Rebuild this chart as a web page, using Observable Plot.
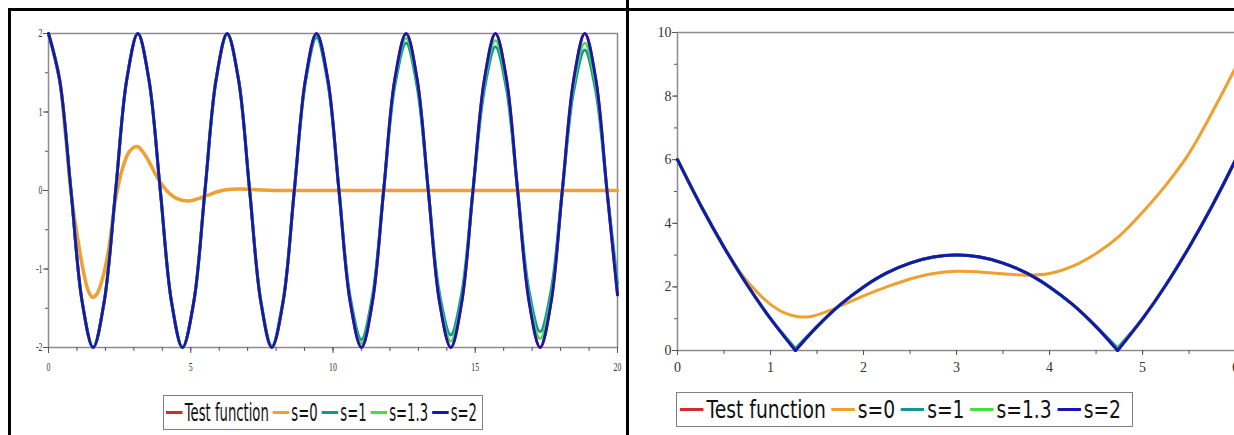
<!DOCTYPE html>
<html><head><meta charset="utf-8">
<script src="https://cdn.jsdelivr.net/npm/d3@7"></script>
<script src="https://cdn.jsdelivr.net/npm/@observablehq/plot@0.6"></script>
<style>
html,body{margin:0;padding:0;background:#fff;overflow:hidden;}
#wrap{position:relative;width:1234px;height:435px;overflow:hidden;background:#fff;}
.rule{position:absolute;background:#000;}
.panel{position:absolute;top:0;}
.panel svg{max-width:none !important;}
.legend{position:absolute;border:1.5px solid #808080;box-sizing:border-box;background:#fff;overflow:hidden;}
.legend .row{position:absolute;top:50%;display:flex;align-items:center;white-space:nowrap;font-family:"DejaVu Sans";font-size:24px;color:#111;transform-origin:0 50%;}
.sw{display:inline-block;width:30px;height:3px;margin-right:4px;}
.lab{margin-right:7px;}
</style>
</head><body>
<div id="wrap">
  <div class="panel" id="left" style="left:0px;width:627px;"></div>
  <div class="panel" id="right" style="left:627px;width:636px;"></div>
  <div class="legend" id="legL" style="left:163px;top:395px;width:320px;height:35px;"></div>
  <div class="legend" id="legR" style="left:676px;top:392px;width:457px;height:35px;"></div>
  <div class="rule" style="left:8px;top:8px;width:1226px;height:3px;"></div>
  <div class="rule" style="left:8px;top:8px;width:3px;height:427px;"></div>
  <div class="rule" style="left:626px;top:0px;width:3px;height:435px;"></div>
</div>
<script>
// ---------- legend ----------
const seriesNames = ["Test function", "s=0", "s=1", "s=1.3", "s=2"];
const seriesColors = ["#d42a2a", "#efa030", "#179595", "#40e040", "#1616b0"];

// ---------- left panel (x 0..20, y -2..2) ----------
const leftXTicks = [0, 5, 10, 15, 20];
const leftYTicks = [-2, -1, 0, 1, 2];
const leftX = [0,0.39,0.79,1.18,1.57,1.96,2.36,2.75,3.14,3.53,3.93,4.32,4.71,5.11,5.50,5.89,
  6.28,6.68,7.07,7.46,7.85,8.25,8.64,9.03,9.42,9.82,10.21,10.60,11.00,11.39,11.78,12.17,
  12.57,12.96,13.35,13.74,14.14,14.53,14.92,15.32,15.71,16.10,16.49,16.89,17.28,17.67,18.06,18.46,
  18.85,19.24,19.63,20.00];
const leftTest = [2,1.41,0,-1.41,-2,-1.41,0,1.41, 2,1.41,0,-1.41,-2,-1.41,0,1.41,
  2,1.41,0,-1.41,-2,-1.41,0,1.41, 2,1.41,0,-1.41,-2,-1.41,0,1.41,
  2,1.41,0,-1.41,-2,-1.41,0,1.41, 2,1.41,0,-1.41,-2,-1.41,0,1.41, 2,1.41,0,-1.33];
const leftS1 = [2,1.41,0,-1.41,-2,-1.41,0,1.41, 2,1.41,0,-1.41,-2,-1.41,0,1.41,
  1.99,1.41,0,-1.40,-1.98,-1.39,0,1.38, 1.95,1.37,0,-1.35,-1.90,-1.34,0,1.33,
  1.88,1.32,0,-1.31,-1.84,-1.30,0,1.29, 1.83,1.29,0,-1.28,-1.80,-1.27,0,1.27, 1.79,1.26,0,-1.19];
const leftS13 = [2,1.41,0,-1.41,-2,-1.41,0,1.41, 2,1.41,0,-1.41,-2,-1.41,0,1.41,
  2,1.41,0,-1.41,-1.99,-1.41,0,1.40, 1.98,1.40,0,-1.39,-1.95,-1.38,0,1.37,
  1.94,1.37,0,-1.36,-1.92,-1.36,0,1.35, 1.91,1.35,0,-1.34,-1.89,-1.34,0,1.33, 1.88,1.33,0,-1.25];
const leftS2 = [2,1.41,0,-1.41,-2,-1.41,0,1.41, 2,1.41,0,-1.41,-2,-1.41,0,1.41,
  2,1.41,0,-1.41,-2,-1.41,0,1.41, 2,1.41,0,-1.41,-2,-1.41,0,1.41,
  2,1.41,0,-1.41,-2,-1.41,0,1.41, 2,1.41,0,-1.41,-2,-1.41,0,1.41, 2,1.41,0,-1.33];
const leftS0X = [0,0.39,0.6,0.8,1.0,1.2,1.4,1.55,1.7,1.9,2.1,2.35,2.6,2.85,3.12,3.4,3.6,3.82,4.15,4.5,
  4.93,5.3,5.6,6.0,6.4,6.75,7.3,8,10,12,14,16,18,20];
const leftS0 = [2,1.41,0.7,-0.05,-0.55,-0.98,-1.28,-1.36,-1.32,-1.12,-0.78,-0.13,0.28,0.5,0.56,0.45,0.32,0.17,0.0,-0.1,
  -0.135,-0.1,-0.06,-0.01,0.015,0.02,0.01,0,0,0,0,0,0,0];

// ---------- right panel (x 0..6.3, y 0..10) ----------
const rightXTicks = [0, 1, 2, 3, 4, 5, 6];
const rightYTicks = [0, 2, 4, 6, 8, 10];
const rightKinks = [1.268, 4.732];
const rightX = [0,0.25,0.5,0.75,1.0,1.268,1.5,1.75,2.0,2.25,2.5,2.75,3.0,3.25,3.5,3.75,4.0,4.25,4.5,4.732,5.0,5.25,5.5,5.75,6.0,6.3];
const rightTest = [6,4.56,3.25,2.06,1.0,0,0.75,1.44,2.0,2.44,2.75,2.94,3.0,2.94,2.75,2.44,2.0,1.44,0.75,0,1.0,2.06,3.25,4.56,6.0,7.89];
const rightS1 = [6,4.56,3.25,2.06,1.0,0.06,0.75,1.44,2.0,2.44,2.75,2.94,3.0,2.94,2.75,2.44,2.0,1.44,0.75,0.08,1.0,2.06,3.25,4.56,6.0,7.89];
const rightS13 = [6,4.56,3.25,2.06,1.0,0.03,0.75,1.44,2.0,2.44,2.75,2.94,3.0,2.94,2.75,2.44,2.0,1.44,0.75,0.04,1.0,2.06,3.25,4.56,6.0,7.89];
const rightS2 = [6,4.56,3.25,2.06,1.0,0,0.75,1.44,2.0,2.44,2.75,2.94,3.0,2.94,2.75,2.44,2.0,1.44,0.75,0,1.0,2.06,3.25,4.56,6.0,7.89];
const rightS0X = [0,0.25,0.5,0.7,0.85,1.0,1.15,1.3,1.45,1.6,1.75,2.0,2.25,2.5,2.75,3.0,3.25,3.5,3.75,4.0,4.25,4.5,4.75,5.0,5.25,5.5,5.75,6.0,6.3];
const rightS0 = [6,4.56,3.25,2.35,1.85,1.45,1.18,1.06,1.08,1.22,1.4,1.72,2.0,2.25,2.42,2.49,2.47,2.41,2.37,2.42,2.65,3.05,3.6,4.35,5.2,6.2,7.5,8.9,10.7];

// ---------- helpers ----------
const rows = (xs, ys) => xs.map((x, i) => ({x, y: ys[i]}));
function segRows(xs, ys, kinks) {
  const out = [];
  xs.forEach((x, i) => {
    const seg = kinks.filter(k => x > k).length;
    out.push({x, y: ys[i], seg});
    if (kinks.includes(x)) out.push({x, y: ys[i], seg: seg + 1});
  });
  return out;
}
const fmt = d => String(d);
const tickCol = "#555";
const serif = "Liberation Serif";

// ---------- left plot ----------
const leftMarks = [
  Plot.frame({stroke: "#8c8c8c", strokeWidth: 1.5}),
  Plot.axisX({ticks: d3.range(0, 21, 1), tickSize: 4, tickFormat: () => "", stroke: tickCol, label: null}),
  Plot.axisX({ticks: leftXTicks, tickSize: 6, tickPadding: 9, tickFormat: fmt, stroke: tickCol, label: null, fontFamily: serif, fontSize: 12, fill: "#333"}),
  Plot.axisY({ticks: d3.range(-2, 2.01, 0.5), tickSize: 3, tickFormat: () => "", stroke: tickCol, label: null}),
  Plot.axisY({ticks: leftYTicks, tickSize: 5, tickPadding: 1, tickFormat: fmt, stroke: tickCol, label: null, fontFamily: serif, fontSize: 12, fill: "#333"}),
  Plot.line(rows(leftX, leftTest), {x: "x", y: "y", stroke: seriesColors[0], strokeWidth: 3, curve: "catmull-rom"}),
  Plot.line(rows(leftS0X, leftS0), {x: "x", y: "y", stroke: seriesColors[1], strokeWidth: 3.5, curve: "catmull-rom"}),
  Plot.line(rows(leftX, leftS1), {x: "x", y: "y", stroke: seriesColors[2], strokeWidth: 3, curve: "catmull-rom"}),
  Plot.line(rows(leftX, leftS13), {x: "x", y: "y", stroke: seriesColors[3], strokeWidth: 2.5, curve: "catmull-rom"}),
  Plot.line(rows(leftX, leftS2), {x: "x", y: "y", stroke: seriesColors[4], strokeWidth: 2.8, curve: "catmull-rom"})
];
const leftPlot = Plot.plot({
  width: 627, height: 392,
  marginLeft: 48, marginRight: 10, marginTop: 33, marginBottom: 45,
  style: {fontFamily: serif, fontSize: "12px", color: "#222", background: "transparent", overflow: "visible", maxWidth: "none"},
  x: {domain: [0, 20], label: null},
  y: {domain: [-2, 2], label: null},
  marks: leftMarks
});
document.getElementById("left").appendChild(leftPlot);
// condense left tick labels horizontally (the reference image is squeezed)
leftPlot.querySelectorAll("text").forEach(el => {
  const t = el.getAttribute("transform") || "";
  el.setAttribute("transform", `${t} scale(0.65,1)`);
});

// ---------- right plot ----------
const rz = d => "s" + d.seg;
const rightMarks = [
  Plot.frame({stroke: "#8c8c8c", strokeWidth: 1.5}),
  Plot.axisX({ticks: d3.range(0, 6.01, 0.5), tickSize: 4, tickFormat: () => "", stroke: tickCol, label: null}),
  Plot.axisX({ticks: rightXTicks, tickSize: 5, tickPadding: 7, tickFormat: fmt, stroke: tickCol, label: null, fontFamily: serif, fontSize: 14, fill: "#333"}),
  Plot.axisY({ticks: d3.range(0, 10.01, 1), tickSize: 3, tickFormat: () => "", stroke: tickCol, label: null}),
  Plot.axisY({ticks: rightYTicks, tickSize: 5, tickPadding: 1, tickFormat: fmt, stroke: tickCol, label: null, fontFamily: serif, fontSize: 14, fill: "#333"}),
  Plot.line(segRows(rightX, rightTest, rightKinks), {x: "x", y: "y", z: rz, stroke: seriesColors[0], strokeWidth: 3, curve: "catmull-rom"}),
  Plot.line(rows(rightS0X, rightS0), {x: "x", y: "y", stroke: seriesColors[1], strokeWidth: 3, curve: "catmull-rom"}),
  Plot.line(segRows(rightX, rightS1, rightKinks), {x: "x", y: "y", z: rz, stroke: seriesColors[2], strokeWidth: 3, curve: "catmull-rom"}),
  Plot.line(segRows(rightX, rightS13, rightKinks), {x: "x", y: "y", z: rz, stroke: seriesColors[3], strokeWidth: 3, curve: "catmull-rom"}),
  Plot.line(segRows(rightX, rightS2, rightKinks), {x: "x", y: "y", z: rz, stroke: seriesColors[4], strokeWidth: 3, curve: "catmull-rom"})
];
const rightPlot = Plot.plot({
  width: 636, height: 392,
  marginLeft: 50, marginRight: 0, marginTop: 32, marginBottom: 42,
  style: {fontFamily: serif, fontSize: "14px", color: "#222", background: "transparent", overflow: "visible", maxWidth: "none"},
  x: {domain: [0, 6.3], label: null},
  y: {domain: [0, 10], label: null},
  marks: rightMarks
});
document.getElementById("right").appendChild(rightPlot);

// ---------- legends ----------
function buildLegend(el, scale, padLeft) {
  const row = document.createElement("div");
  row.className = "row";
  row.style.left = padLeft + "px";
  row.style.transform = `translateY(-50%) scaleX(${scale})`;
  seriesNames.forEach((name, i) => {
    const sw = document.createElement("span");
    sw.className = "sw";
    sw.style.background = seriesColors[i];
    const lab = document.createElement("span");
    lab.className = "lab";
    lab.textContent = name;
    row.appendChild(sw);
    row.appendChild(lab);
  });
  el.appendChild(row);
}
buildLegend(document.getElementById("legL"), 0.55, 1.5);
buildLegend(document.getElementById("legR"), 0.78, 2.5);
</script>
</body></html>
